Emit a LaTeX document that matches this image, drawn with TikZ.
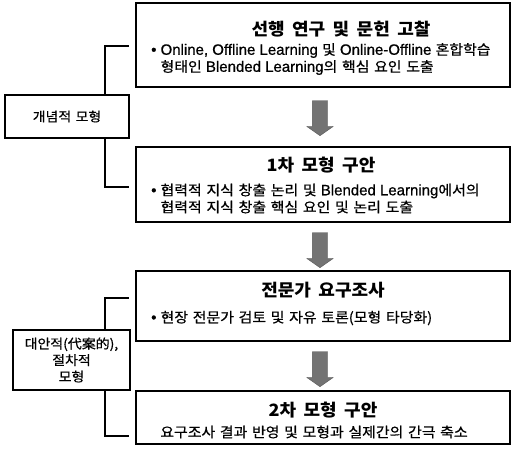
\documentclass[tikz,border=0pt]{standalone}
\usepackage{fontspec}
\setmainfont{Liberation Sans}[FakeBold=0.7]
\newfontfamily\kr{Noto Sans CJK KR}[Scale=0.93,FakeStretch=1.07,WordSpace=1.4,FakeBold=0.6]
\newfontfamily\krtitle{Noto Sans CJK KR}[FakeStretch=1.06,WordSpace=1.8]
\newcommand\hg[1]{{\kr #1}}
\usetikzlibrary{shapes.arrows}
\begin{document}
\begin{tikzpicture}[x=1pt,y=-1pt,
  stagebox/.style={draw=black,line width=1.4pt,rectangle,inner sep=0pt},
  sidebox/.style={draw=black,line width=1.4pt,rectangle,inner sep=0pt,align=center},
  titletext/.style={font=\krtitle\fontsize{17}{20}\selectfont\bfseries,inner sep=0pt},
  bodytext/.style={font=\fontsize{15}{17}\selectfont,inner sep=0pt,align=left,anchor=west},
  downarrow/.style={single arrow,shape border rotate=270,draw=black!65,fill=black!55,line width=0.4pt,
    minimum height=35pt,minimum width=26pt,inner sep=7.5pt,single arrow head extend=5.5pt,single arrow tip angle=110},
  bracket/.style={draw=black,line width=1.4pt}]
\useasboundingbox (0,0) rectangle (512,456);
\fill[white] (0,0) rectangle (512,456);
% stage boxes
\node[stagebox,minimum width=374pt,minimum height=84pt] (b1) at (323,45) {};
\node[stagebox,minimum width=374pt,minimum height=75pt] (b2) at (323,184.5) {};
\node[stagebox,minimum width=374pt,minimum height=70pt] (b3) at (323,306) {};
\node[stagebox,minimum width=374pt,minimum height=53pt] (b4) at (323,417.5) {};
% texts
\node[titletext] (t1) at (341,29) {선행 연구 및 문헌 고찰};
\node[bodytext] (d1) at (151,59) {• Online, Offline Learning \hg{및} Online-Offline \hg{혼합학습}\\\phantom{• }\hg{형태인} Blended Learning\hg{의 핵심 요인 도출}};
\node[titletext] (t2) at (321,165) {1차 모형 구안};
\node[bodytext] (d2) at (151,198.5) {• \hg{협력적 지식 창출 논리 및} Blended Learning\hg{에서의}\\\phantom{• }\hg{협력적 지식 창출 핵심 요인 및 논리 도출}};
\node[titletext] (t3) at (323,290) {전문가 요구조사};
\node[bodytext] (d3) at (151,318) {• \hg{현장 전문가 검토 및 자유 토론(모형 타당화)}};
\node[titletext] (t4) at (323,410) {2차 모형 구안};
\node[font=\fontsize{15}{17}\selectfont\kr,inner sep=0pt] (d4) at (314,432) {요구조사 결과 반영 및 모형과 실제간의 간극 축소};
% arrows
\node[downarrow] (a1) at (320,115.5) {};
\node[downarrow] (a2) at (320,247.5) {};
\node[downarrow] (a3) at (320,366.5) {};
% side boxes
\node[sidebox,minimum width=124pt,minimum height=43pt,font=\fontsize{14}{16}\selectfont\kr] (sA) at (67,116.5) {개념적 모형};
\node[sidebox,minimum width=117pt,minimum height=60pt,font=\fontsize{14}{16.5}\selectfont\kr] (sB) at (71.5,360) {대안적(代案的),\\절차적\\모형};
% brackets
\draw[bracket] (sA.north -| 105,0) -- (105,46) -- ([xshift=-6pt]b1.west |- 0,46);
\draw[bracket] (sA.south -| 105,0) -- (105,187) -- ([xshift=-6pt]b2.west |- 0,187);
\draw[bracket] (sB.north -| 105,0) -- (105,298) -- ([xshift=-6pt]b3.west |- 0,298);
\draw[bracket] (sB.south -| 105,0) -- (105,436) -- ([xshift=-6pt]b4.west |- 0,436);
\end{tikzpicture}
\end{document}
